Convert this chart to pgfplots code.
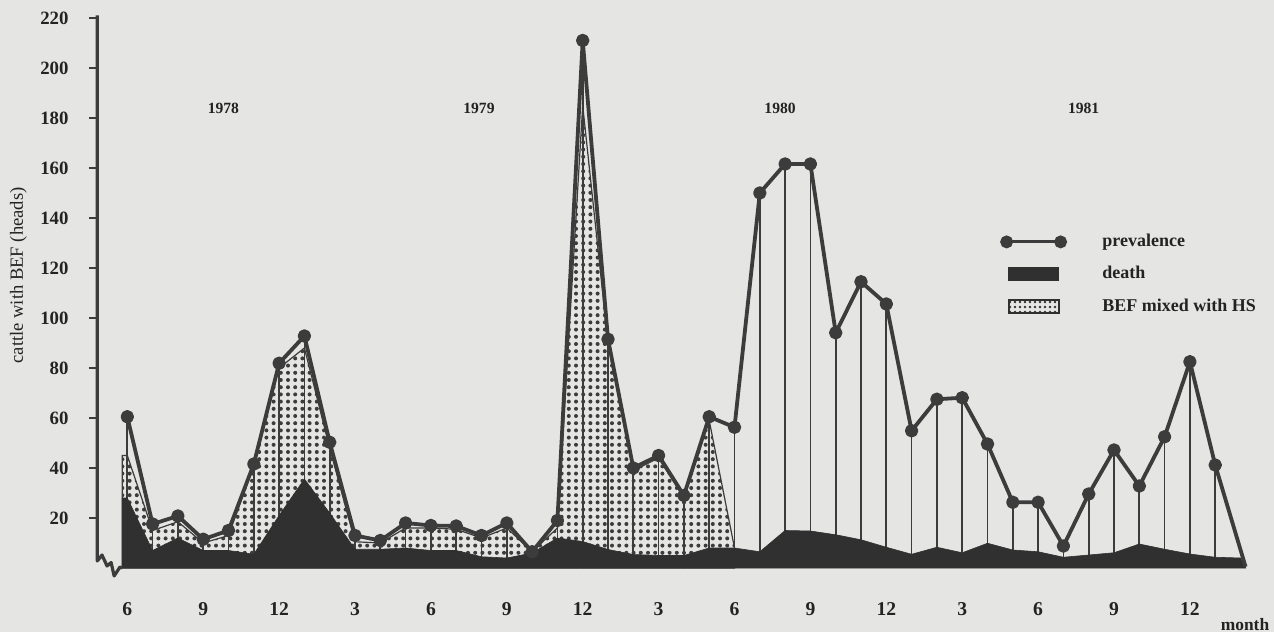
\documentclass[border=0pt]{standalone}
\usepackage{pgfplots}
\pgfplotsset{compat=1.18}
\usepackage{pgfplotstable}
\usepackage{fontspec}
\setmainfont{Liberation Serif}
\usetikzlibrary{patterns.meta}
\definecolor{bgc}{RGB}{229,229,227}
\definecolor{linec}{RGB}{60,60,60}
\definecolor{darkc}{RGB}{48,48,48}
\definecolor{textc}{RGB}{35,35,35}

% prevalence (month index 0 = June 1978)
\pgfplotstableread{
x p
0 60.5
1 17.6
2 20.8
3 11.5
4 15
5 41.6
6 81.9
7 92.8
8 50.3
9 13
10 11
11 18
12 17
13 16.8
14 13
15 18
16 6.5
17 19
18 211
19 91.5
20 40
21 45
22 29
23 60.5
24 56.3
25 150
26 161.6
27 161.6
28 94.1
29 114.5
30 105.6
31 54.9
32 67.5
33 68.1
34 49.6
35 26.3
36 26.3
37 8.8
38 29.6
39 47.2
40 32.8
41 52.5
42 82.5
43 41.2
44.2 0.5
}\prevtab

% death
\pgfplotstableread{
x d
-0.2 28
0 28
1 7
2 12
3 7
4 7
5 5.5
6 21
7 35.6
8 22
9 7.5
10 7.5
11 8
12 7
13 7
14 4.5
15 4
16 6
17 12
18 10.6
19 7.4
20 5.4
21 5
22 5
23 8
24 8
25 6.5
26 15
27 14.8
28 13.3
29 11.3
30 8.3
31 5.5
32 8.3
33 6.1
34 9.9
35 7.2
36 6.5
37 4.3
38 5.2
39 6.1
40 9.6
41 7.5
42 5.6
43 4.3
44 4
44.2 0
}\deathtab

% top of BEF mixed with HS (death + mixed)
\pgfplotstableread{
x h
-0.2 45
0 45
1 15
2 18.5
3 10
4 13
5 41
6 80
7 88
8 48
9 10.5
10 10
11 16
12 16
13 15.5
14 12
15 16
16 6.5
17 16
18 185
19 90
20 39
21 44
22 28
23 59
24 8
}\hstab

\begin{document}
\begin{tikzpicture}
\fill[bgc] (-48.65pt,-32pt) rectangle (588.35pt,284pt);
\useasboundingbox (-48.65pt,-32pt) rectangle (588.35pt,284pt);
\begin{axis}[
  at={(0pt,0pt)}, anchor=south west,
  x=12.65pt, y=1.25pt,
  xmin=-1.186, xmax=45, ymin=0, ymax=220,
  clip=false,
  axis line style={draw=none},
  ytick={20,40,...,220},
  ytick pos=left,
  xtick={0,3,...,42},
  xticklabels={6,9,12,3,6,9,12,3,6,9,12,3,6,9,12},
  xtick pos=bottom,
  xtick style={draw=none},
  ytick style={line width=1.4pt, color=linec},
  tick align=outside,
  major tick length=4.2pt,
  /pgf/number format/assume math mode=true,
  yticklabel style={anchor=east, inner sep=0pt, xshift=-10pt, font=\bfseries\fontsize{9.4}{11}\selectfont, text=textc},
  xticklabel style={anchor=center, inner sep=0pt, yshift=-16.5pt, font=\bfseries\fontsize{9.8}{12}\selectfont, text=textc},
  ylabel={cattle with BEF (heads)},
  ylabel style={at={(axis description cs:-0.0675,0.532)}, anchor=center, font=\fontsize{9.3}{11}\selectfont, text=textc},
  xlabel={month},
  xlabel style={at={(axis description cs:0.9822,0)}, anchor=center, yshift=-28.5pt, font=\bfseries\fontsize{8.7}{10}\selectfont, text=textc},
  legend style={at={(axis cs:34.55,135.3)}, anchor=north west, draw=none, fill=none, inner sep=0pt, row sep=4.4pt,
    font=\bfseries\fontsize{9}{11}\selectfont, text=textc, cells={anchor=west},
    /tikz/every odd column/.append style={column sep=16.5pt}},
]
\addlegendimage{legend image code/.code={\draw[linec, line width=1.6pt, mark=*, mark size=2.4pt, mark options={draw=none, fill=linec}] plot coordinates {(0pt,0pt) (27pt,0pt)};}}
\addlegendentry{prevalence}
\addlegendimage{legend image code/.code={\fill[darkc] (1pt,-3.3pt) rectangle (26pt,3.3pt);}}
\addlegendentry{death}
\addlegendimage{legend image code/.code={\draw[darkc, line width=1.1pt, pattern={Dots[distance=2.5pt, radius=0.65pt]}, pattern color=darkc] (1pt,-3.4pt) rectangle (26pt,3.4pt);}}
\addlegendentry{BEF mixed with HS}

% BEF mixed with HS (dotted)
\addplot[forget plot, draw=linec, line width=0.6pt, pattern={Dots[distance=3.6pt, radius=1pt]}, pattern color=linec] table[x=x,y=h]{\hstab} \closedcycle;
% drop lines
\addplot[forget plot, ycomb, no marks, draw=linec, line width=0.85pt] table[x=x,y=p]{\prevtab};
% death (solid)
\addplot[forget plot, fill=darkc, draw=darkc, line width=0.3pt] table[x=x,y=d]{\deathtab} \closedcycle;
% prevalence
\addplot[forget plot, linec, line width=1.9pt, line join=round, mark=*, mark size=2.4pt, mark options={draw=none, fill=linec}, mark indices={1,...,44}] table[x=x,y=p]{\prevtab};

% y axis line with break
\draw[linec, line width=1.6pt, line join=round] (axis cs:-1.186,221) -- (axis cs:-1.186,2.8) -- (axis cs:-1.0,5.2) -- (axis cs:-0.80,0.8) -- (axis cs:-0.64,2.2) -- (axis cs:-0.52,-3.2) -- (axis cs:-0.29,0.4) -- (axis cs:-0.2,0);

% years
\node[font=\bfseries\fontsize{7.8}{10}\selectfont, text=textc] at (axis cs:3.8,184) {1978};
\node[font=\bfseries\fontsize{7.8}{10}\selectfont, text=textc] at (axis cs:13.9,184) {1979};
\node[font=\bfseries\fontsize{7.8}{10}\selectfont, text=textc] at (axis cs:25.8,184) {1980};
\node[font=\bfseries\fontsize{7.8}{10}\selectfont, text=textc] at (axis cs:37.8,184) {1981};
\end{axis}
\end{tikzpicture}
\end{document}
